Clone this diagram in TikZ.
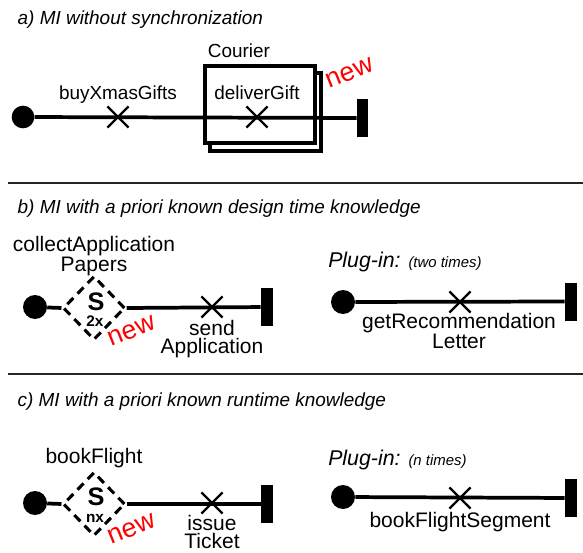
\documentclass[tikz,border=0pt]{standalone}
\usepackage{fontspec}
\setmainfont{Liberation Sans}
\usetikzlibrary{shapes.geometric,shapes.misc}

\begin{document}
\begin{tikzpicture}[x=0.75pt,y=-0.75pt,
  flow/.style={line width=2.8pt},
  startdot/.style={circle,fill,inner sep=0pt,minimum size=18pt},
  endbar/.style={rectangle,fill,inner sep=0pt,minimum width=9pt,minimum height=28.5pt},
  task/.style={cross out,draw,line width=1.8pt,inner sep=0pt,minimum size=14pt},
  subproc/.style={diamond,draw,line width=2.3pt,dash pattern=on 6.5pt off 4.5pt,
    inner sep=0pt,minimum width=46.5pt,minimum height=48pt},
  title/.style={anchor=base west,font=\fontsize{14.2}{16}\itshape},
  lbla/.style={font=\fontsize{14.2}{14}\selectfont},
  lbl/.style={font=\fontsize{15.75}{14}\selectfont,align=center,inner sep=0pt},
  newmark/.style={text=red,rotate=22,font=\fontsize{20}{22}\selectfont,inner sep=0pt},
  sepline/.style={line width=1.2pt,black!85}]
  \useasboundingbox (0,0) rectangle (583,553);

  % a) without synchronization
  \node[title] (title-a) at (13,24) {a) MI without synchronization};
  \draw[line width=2.8pt,fill=white] (210,73) rectangle (321,151);
  \draw[line width=2.8pt,fill=white] (205,66) rectangle (315,143);
  \node[startdot,minimum size=17pt] (a-start) at (23,117) {};
  \node[endbar,minimum width=8.25pt] (a-end) at (362.5,118) {};
  \node[task] (a-buy) at (118,117) {};
  \node[task] (a-deliver) at (257,117) {};
  \draw[flow] (a-start) -- (a-end);
  \node[lbla,anchor=base] (a-buy-lbl) at (118,99) {buyXmasGifts};
  \node[lbla,anchor=base] (a-deliver-lbl) at (257,99) {deliverGift};
  \node[lbla,anchor=base] (a-courier) at (239,57) {Courier};
  \node[newmark] (a-new) at (350,73) {new};

  \draw[sepline] (8,183) -- (583,183);

  % b) design time knowledge
  \node[title] (title-b) at (13,213) {b) MI with a priori known design time knowledge};
  \node[startdot] (b-start) at (35,307) {};
  \node[subproc] (b-sub) at (94,308) {};
  \node[endbar] (b-end) at (267,307) {};
  \node[task] (b-send) at (212,307) {};
  \draw[flow] (b-start) -- (b-sub.west);
  \draw[flow] (b-sub.east) -- (b-end);
  \node[font=\fontsize{19}{20}\bfseries,inner sep=0pt] (b-s) at (96,302) {S};
  \node[font=\fontsize{11.5}{12}\bfseries,inner sep=0pt] (b-times) at (95,321) {2x};
  \node[lbl] (b-collect) at (94,256) {collectApplication\\Papers};
  \node[lbl] (b-send-lbl) at (212,339) {send\\Application};
  \node[newmark] (b-new) at (132,331) {new};

  % b) plug-in
  \node[anchor=base west,inner sep=0pt] (plug-b) at (328,267)
    {\fontsize{16}{18}\itshape Plug-in: \fontsize{11.2}{12}\selectfont(two times)};
  \node[startdot] (pb-start) at (343,302) {};
  \node[endbar] (pb-end) at (571,301.5) {};
  \node[task] (pb-get) at (460,302) {};
  \draw[flow] (pb-start) -- (pb-end);
  \node[lbl] (pb-get-lbl) at (459,331) {getRecommendation\\Letter};

  \draw[sepline] (8,374) -- (583,374);

  % c) runtime knowledge
  \node[title] (title-c) at (13,406) {c) MI with a priori known runtime knowledge};
  \node[startdot] (c-start) at (35,503) {};
  \node[subproc] (c-sub) at (94,504) {};
  \node[endbar] (c-end) at (267,504) {};
  \node[task] (c-issue) at (212,503) {};
  \draw[flow] (c-start) -- (c-sub.west);
  \draw[flow] (c-sub.east) -- (c-end);
  \node[font=\fontsize{19}{20}\bfseries,inner sep=0pt] (c-s) at (96,497) {S};
  \node[font=\fontsize{11.5}{12}\bfseries,inner sep=0pt] (c-times) at (95,518) {nx};
  \node[lbl,anchor=base] (c-book) at (94,463) {bookFlight};
  \node[lbl] (c-issue-lbl) at (212,532) {issue\\Ticket};
  \node[newmark] (c-new) at (132,529) {new};

  % c) plug-in
  \node[anchor=base west,inner sep=0pt] (plug-c) at (328,465)
    {\fontsize{16}{18}\itshape Plug-in: \fontsize{11.2}{12}\selectfont(n times)};
  \node[startdot] (pc-start) at (343,497) {};
  \node[endbar] (pc-end) at (571,498) {};
  \node[task] (pc-book) at (460,498) {};
  \draw[flow] (pc-start) -- (pc-end);
  \node[lbl,anchor=base] (pc-book-lbl) at (460,527) {bookFlightSegment};
\end{tikzpicture}
\end{document}
